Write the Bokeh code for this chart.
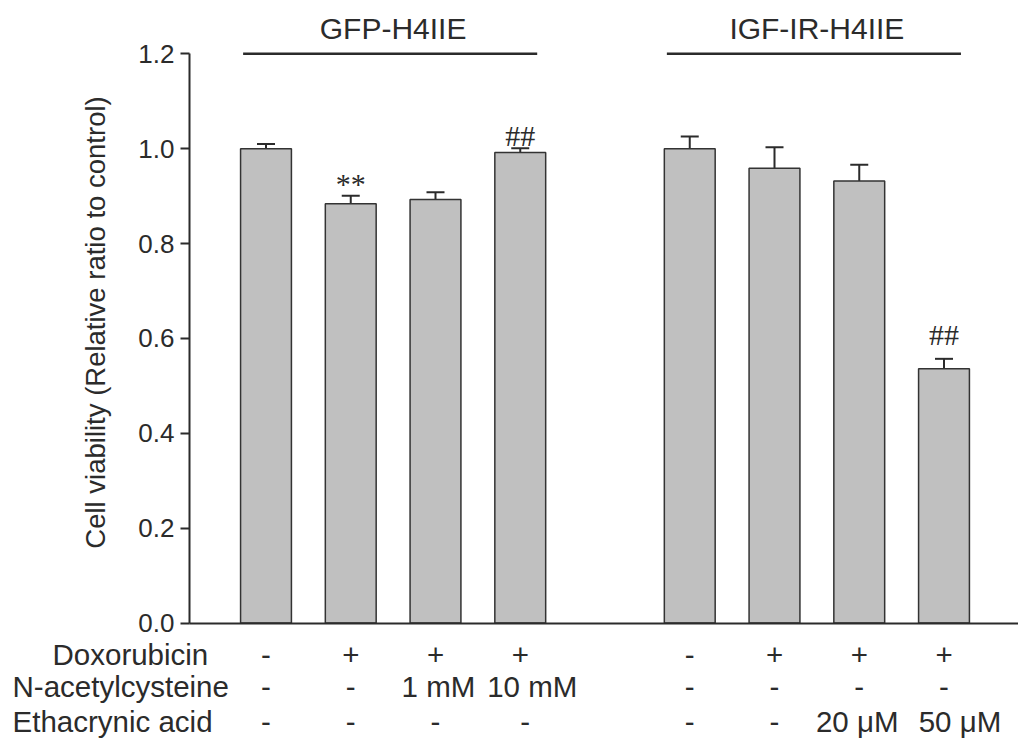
import math
from bokeh.plotting import figure
from bokeh.models import (Range1d, FixedTicker, Whisker, TeeHead, Label,
                          ColumnDataSource, PrintfTickFormatter)
from bokeh.core.properties import value
from bokeh.embed import file_html
from bokeh.resources import INLINE

# ---------------- data ----------------
groups = ["GFP-H4IIE", "IGF-IR-H4IIE"]
group_first = [1, 6]
group_last = [4, 9]
bar_x = [1, 2, 3, 4, 6, 7, 8, 9]
viability = [1.000, 0.884, 0.893, 0.992, 1.000, 0.959, 0.932, 0.536]
sem = [0.010, 0.017, 0.015, 0.009, 0.026, 0.044, 0.034, 0.021]
marks = ["", "**", "", "##", "", "", "", "##"]
row_names = ["Doxorubicin", "N-acetylcysteine", "Ethacrynic acid"]
doxorubicin = ["-", "+", "+", "+", "-", "+", "+", "+"]
nac = ["-", "-", "1 mM", "10 mM", "-", "-", "-", "-"]
ethacrynic = ["-", "-", "-", "-", "-", "-", "20 \u03bcM", "50 \u03bcM"]
y_ticks = [0.0, 0.2, 0.4, 0.6, 0.8, 1.0, 1.2]
y_label = "Cell viability (Relative ratio to control)"

# ---------------- layout / style ----------------
FONT = value("Liberation Sans")
SERIF = value("Liberation Serif")
DARK = "#2b2b2b"
X0, X1 = -2.1327, 9.879
Y0, Y1 = -0.2456, 1.3125
AXIS_X = 0.0974
mark_offsets = [0, -12, 0, -13, 0, 0, 0, -24]
row_y = [-0.0664, -0.1349, -0.2077]
row_dx = [[0] * 8, [0, 0, 3, 12, 0, 0, 0, 0], [0, 0, 0, 5, 0, 0, -2, 16]]
row_label_x = [-1.519, -1.991, -1.991]

p = figure(width=1018, height=739, output_backend="svg", toolbar_location=None,
           x_range=Range1d(X0, X1), y_range=Range1d(Y0, Y1),
           min_border_left=0, min_border_right=0, min_border_top=0,
           min_border_bottom=0, outline_line_color=None)
p.grid.visible = False

# y axis, pinned at its data location so that it takes no side space
ax = p.yaxis[0]
ax.fixed_location = AXIS_X
ax.bounds = (0, 1.2)
ax.ticker = FixedTicker(ticks=y_ticks)
ax.formatter = PrintfTickFormatter(format="%.1f")
ax.axis_line_color = DARK
ax.axis_line_width = 2
ax.major_tick_line_color = DARK
ax.major_tick_line_width = 2
ax.major_tick_out = 9
ax.major_tick_in = 0
ax.minor_tick_line_color = None
ax.major_label_text_font = "Liberation Sans"
ax.major_label_text_font_size = "26px"
ax.major_label_text_color = DARK
ax.major_label_standoff = 6

# x axis line (baseline) at y = 0
xa = p.xaxis[0]
xa.fixed_location = 0
xa.bounds = (AXIS_X, X1)
xa.axis_line_color = DARK
xa.axis_line_width = 2
xa.major_tick_line_color = None
xa.minor_tick_line_color = None
xa.major_label_text_font_size = "0px"
xa.major_label_text_color = None

# y axis title
p.add_layout(Label(x=-1.0118, y=0.6336, text=y_label, angle=math.pi / 2,
                   text_font="Liberation Sans", text_font_size="27.5px",
                   text_color=DARK, text_align="center", text_baseline="middle"))

# bars
src = ColumnDataSource(dict(x=bar_x, top=viability,
                            upper=[v + e for v, e in zip(viability, sem)],
                            mark=marks, off=mark_offsets))
p.vbar(x="x", top="top", bottom=0, width=0.6, source=src,
       fill_color="#c0c0c0", line_color="#333333", line_width=1.5)

# error bars (upper only)
p.add_layout(Whisker(base="x", lower="top", upper="upper", source=src,
                     line_color=DARK, line_width=2,
                     upper_head=TeeHead(size=18, line_color=DARK, line_width=2),
                     lower_head=None))

# significance marks
p.text(x="x", y="upper", text="mark", y_offset="off", source=src,
       text_font=SERIF, text_font_size="30px", text_color=DARK,
       text_align="center", text_baseline="middle")

# group lines and labels
gx0 = [g - 0.27 for g in group_first]
gx1 = [g + 0.2 for g in group_last]
gc = [(a + b) / 2 for a, b in zip(group_first, group_last)]
p.segment(x0=gx0, x1=gx1, y0=[1.2, 1.2], y1=[1.2, 1.2], line_color=DARK, line_width=2.5)
p.text(x=gc, y=[1.2, 1.2], text=groups, y_offset=-25, text_font=FONT,
       text_font_size="30px", text_color=DARK, text_align="center",
       text_baseline="middle")

# treatment table
for vals, yy, dx in zip([doxorubicin, nac, ethacrynic], row_y, row_dx):
    p.text(x=bar_x, y=[yy] * len(bar_x), text=vals, x_offset=dx, text_font=FONT,
           text_font_size="29.5px", text_color=DARK, text_align="center",
           text_baseline="middle")
for name, yy, xx in zip(row_names, row_y, row_label_x):
    p.add_layout(Label(x=xx, y=yy, text=name, text_font="Liberation Sans",
                       text_font_size="29.5px", text_color=DARK,
                       text_align="left", text_baseline="middle"))

open("out.html", "w").write(file_html(p, INLINE))
